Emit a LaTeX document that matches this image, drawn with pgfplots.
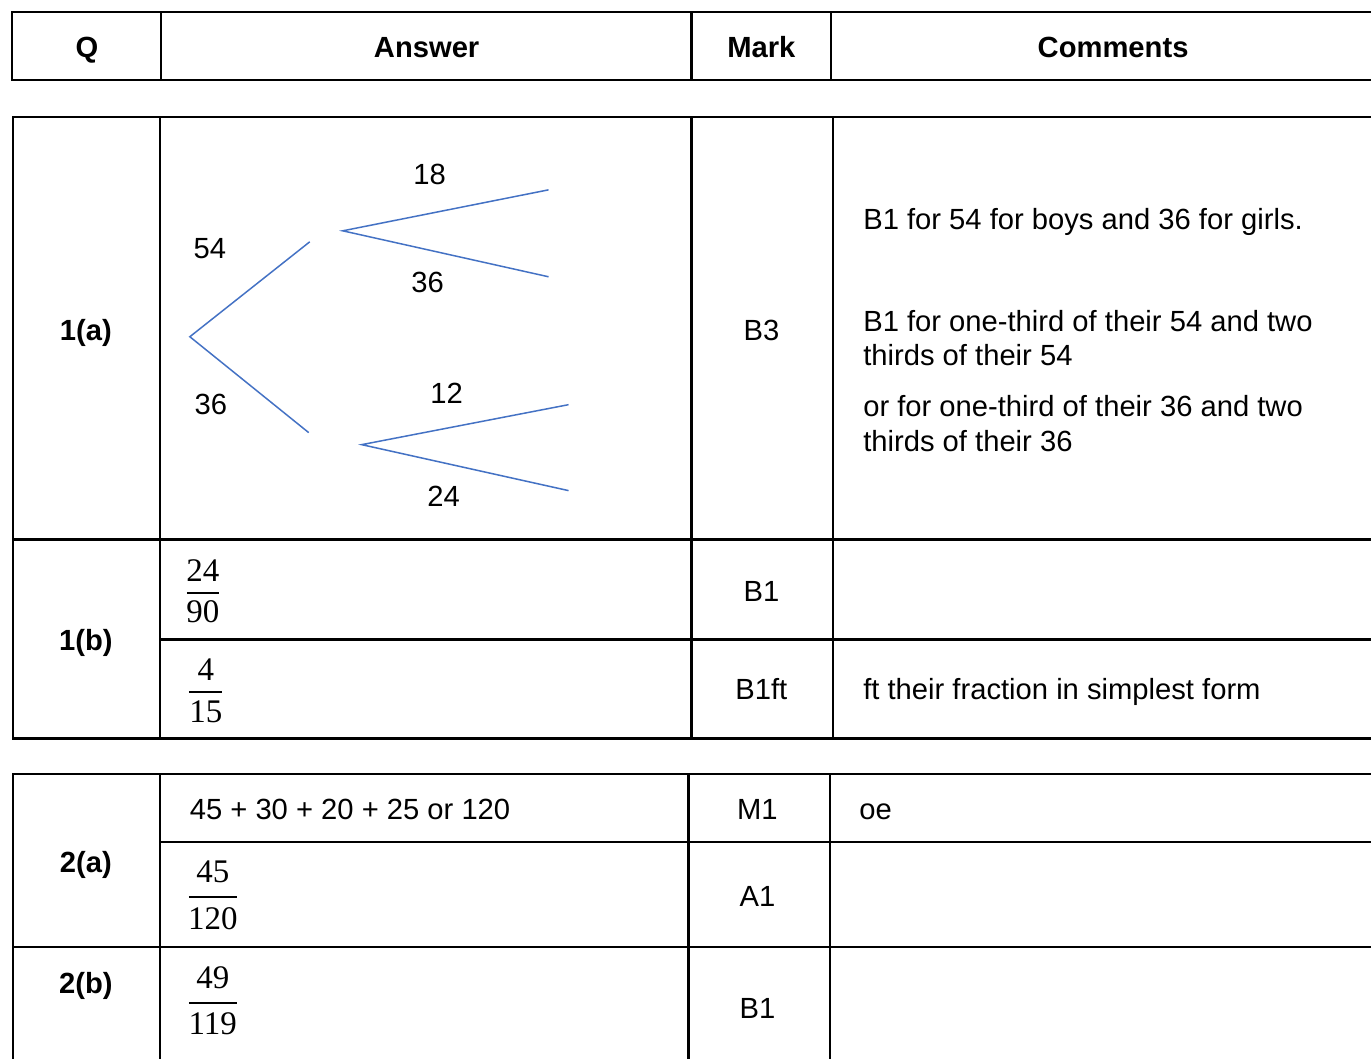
\documentclass[border=0pt]{standalone}
\usepackage{pgfplots}
\pgfplotsset{compat=1.18}
\usepackage{fontspec}
\setmainfont{Liberation Sans}
\newfontfamily\serifdig{Liberation Serif}
\definecolor{treeblue}{RGB}{68,114,196}
\newcommand\T{\fontsize{14.6}{17.5}\selectfont}
\newcommand\F{\fontsize{16.5}{20}\selectfont\serifdig}
\begin{document}
\begin{tikzpicture}[
  t/.style={inner sep=0pt, outer sep=0pt, font=\T},
  tb/.style={inner sep=0pt, outer sep=0pt, font=\T\bfseries},
  fr/.style={inner sep=0pt, outer sep=0pt, font=\F},
]
\begin{axis}[
  scale only axis, width=685.5pt, height=529.5pt,
  xmin=0, xmax=1371, ymin=0, ymax=1059, y dir=reverse,
  hide axis, clip=false,
  tl/.style={black, line width=1.1pt, line cap=rect},
  fb/.style={black, line width=1pt},
  br/.style={treeblue, line width=0.75pt},
]
\addplot[draw=none] coordinates {(0,0) (1371,1059)};
% ---------- header table
\addplot[tl] coordinates {(1371,12) (12,12) (12,80) (1371,80)};
\addplot[tl] coordinates {(161,12) (161,80)};
\addplot[tl] coordinates {(692,12) (692,80)};
\addplot[tl] coordinates {(832,12) (832,80)};
\node[tb,anchor=base] at (axis cs:87,57.5) {Q};
\node[tb,anchor=base] at (axis cs:427,57.5) {Answer};
\node[tb,anchor=base] at (axis cs:762,57.5) {Mark};
\node[tb,anchor=base] at (axis cs:1114,57.5) {Comments};
% ---------- table 1
\addplot[tl] coordinates {(1371,117) (13,117) (13,739) (1371,739)};
\addplot[tl] coordinates {(160,117) (160,739)};
\addplot[tl] coordinates {(692,117) (692,739)};
\addplot[tl] coordinates {(834,117) (834,739)};
\addplot[tl] coordinates {(13,540) (1371,540)};
\addplot[tl] coordinates {(160,640) (1371,640)};
% tree diagram
\addplot[br] coordinates {(310,242) (190,337) (309,433)};
\addplot[br] coordinates {(549,190) (343,231) (549,277)};
\addplot[br] coordinates {(569,405) (362,445) (569,491)};
\node[t,anchor=base] at (axis cs:430,184.5) {18};
\node[t,anchor=base] at (axis cs:428,292.5) {36};
\node[t,anchor=base] at (axis cs:210,258.5) {54};
\node[t,anchor=base] at (axis cs:211,414.5) {36};
\node[t,anchor=base] at (axis cs:447,403.5) {12};
\node[t,anchor=base] at (axis cs:444,506.5) {24};
\node[tb,anchor=base] at (axis cs:86,341) {1(a)};
\node[t,anchor=base] at (axis cs:762,340.5) {B3};
\node[t,anchor=base west] at (axis cs:864,229.5) {B1 for 54 for boys and 36 for girls.};
\node[t,anchor=base west] at (axis cs:864,331.5) {B1 for one-third of their 54 and two};
\node[t,anchor=base west] at (axis cs:864,365.5) {thirds of their 54};
\node[t,anchor=base west] at (axis cs:864,416.5) {or for one-third of their 36 and two};
\node[t,anchor=base west] at (axis cs:864,451.5) {thirds of their 36};
\node[tb,anchor=base] at (axis cs:86,651.5) {1(b)};
\node[t,anchor=base] at (axis cs:762,601.5) {B1};
\node[t,anchor=base] at (axis cs:762,700.5) {B1ft};
\node[t,anchor=base west] at (axis cs:864,700.5) {ft their fraction in simplest form};
% fractions
\addplot[fb] coordinates {(187,593) (219,593)};
\node[fr] at (axis cs:203,571) {24};
\node[fr] at (axis cs:203,612) {90};
\addplot[fb] coordinates {(189,693) (222,693)};
\node[fr] at (axis cs:206,670) {4};
\node[fr] at (axis cs:206,712) {15};
% ---------- table 2
\addplot[tl] coordinates {(1371,775) (13,775) (13,1059)};
\addplot[tl] coordinates {(160,775) (160,1059)};
\addplot[tl] coordinates {(689,775) (689,1059)};
\addplot[tl] coordinates {(831,775) (831,1059)};
\addplot[tl] coordinates {(160,843) (1371,843)};
\addplot[tl] coordinates {(13,948) (1371,948)};
\node[tb,anchor=base] at (axis cs:86,873.5) {2(a)};
\node[t,anchor=base west] at (axis cs:190,820.5) {45 + 30 + 20 + 25 or 120};
\node[t,anchor=base] at (axis cs:758,820.5) {M1};
\node[t,anchor=base west] at (axis cs:860,820) {oe};
\addplot[fb] coordinates {(189,898) (237,898)};
\node[fr] at (axis cs:213,873) {45};
\node[fr] at (axis cs:213,919) {120};
\node[t,anchor=base] at (axis cs:758,907.5) {A1};
\node[tb,anchor=base] at (axis cs:86,994.5) {2(b)};
\addplot[fb] coordinates {(189,1004) (237,1004)};
\node[fr] at (axis cs:213,979) {49};
\node[fr] at (axis cs:213,1025) {119};
\node[t,anchor=base] at (axis cs:758,1019.5) {B1};
\end{axis}
\end{tikzpicture}
\end{document}
